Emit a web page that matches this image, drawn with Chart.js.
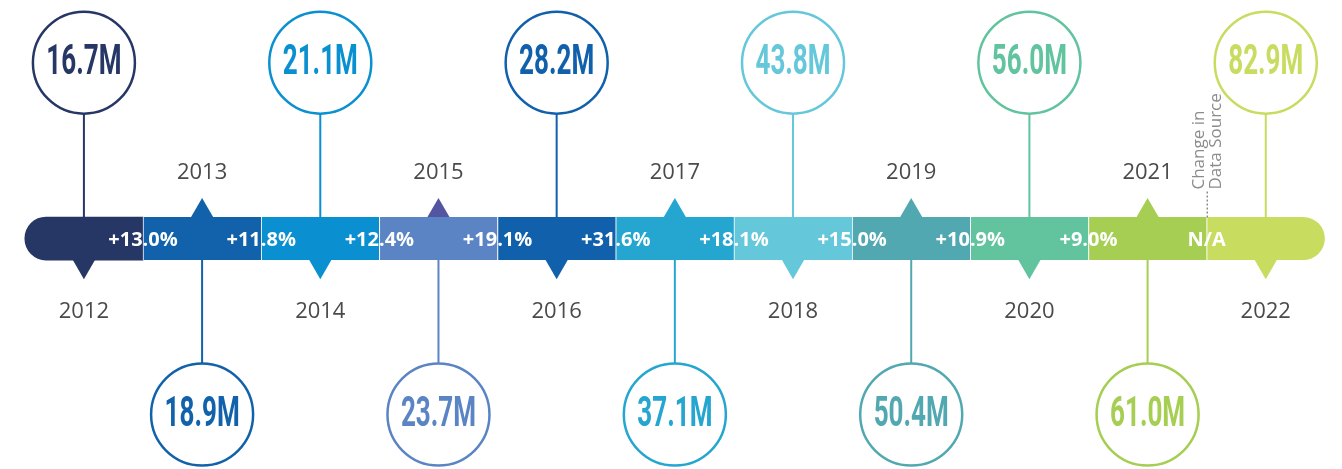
<!DOCTYPE html>
<html>
<head>
<meta charset="utf-8">
<script src="https://cdn.jsdelivr.net/npm/chart.js@4.4.1/dist/chart.umd.min.js"></script>
<style>
    html, body { margin: 0; padding: 0; background: #ffffff; }
    #wrap { width: 1342px; height: 469px; position: relative; }
</style>
</head>
<body>
<div id="wrap"><canvas id="timeline"></canvas></div>
<script>
// Timeline data
const years = [2012, 2013, 2014, 2015, 2016, 2017, 2018, 2019, 2020, 2021, 2022];
const totals = [16.7, 18.9, 21.1, 23.7, 28.2, 37.1, 43.8, 50.4, 56.0, 61.0, 82.9];
const changes = [13.0, 11.8, 12.4, 19.1, 31.6, 18.1, 15.0, 10.9, 9.0, null];
const yearColors = ['#263766', '#1162ab', '#0a90d0', '#5b84c4', '#1160ab', '#24a6d1',
    '#64c7da', '#52a8b0', '#62c39f', '#a5ce52', '#c8dc60'];
const pointerColors = ['#263766', '#1162ab', '#0a90d0', '#5355a0', '#1160ab', '#24a6d1',
    '#64c7da', '#52a8b0', '#62c39f', '#a5ce52', '#c8dc60'];
const sourceNote = ['Change in', 'Data Source'];

// layout (value units on the hidden y scale)
const CIRCLE_LEVEL = 5;
const POINTER_LEVEL = 0.71;
const isTop = i => i % 2 === 0;

const datasets = [];

// Stems from circles to the band
years.forEach((yr, i) => {
    datasets.push({
        type: 'line',
        data: [{ x: yr, y: isTop(i) ? CIRCLE_LEVEL : -CIRCLE_LEVEL }, { x: yr, y: 0 }],
        borderColor: yearColors[i],
        borderWidth: 2,
        pointRadius: 0,
        showLine: true,
        order: 5
    });
});

// Little triangles pointing at the year labels
datasets.push({
    type: 'scatter',
    data: years.map((yr, i) => ({ x: yr, y: isTop(i) ? -POINTER_LEVEL : POINTER_LEVEL })),
    pointStyle: 'triangle',
    pointRadius: 15.6,
    rotation: years.map((yr, i) => isTop(i) ? 180 : 0),
    backgroundColor: pointerColors,
    borderWidth: 0,
    order: 4
});

// The band itself: one floating segment per year
const last = years.length - 1;
datasets.push({
    type: 'bar',
    indexAxis: 'y',
    data: years.map(yr => ({ x: [yr - 0.5, yr + 0.5], y: 0 })),
    backgroundColor: yearColors,
    borderColor: '#ffffff',
    borderWidth: ctx => ctx.dataIndex === 0 ? 0 : { left: 1, right: 0, top: 0, bottom: 0 },
    borderSkipped: false,
    borderRadius: ctx => {
        if (ctx.dataIndex === 0) return { topLeft: 22, bottomLeft: 22, topRight: 0, bottomRight: 0 };
        if (ctx.dataIndex === last) return { topLeft: 0, bottomLeft: 0, topRight: 22, bottomRight: 22 };
        return 0;
    },
    barThickness: 43,
    order: 3
});

// Value circles
datasets.push({
    type: 'scatter',
    data: years.map((yr, i) => ({ x: yr, y: isTop(i) ? CIRCLE_LEVEL : -CIRCLE_LEVEL })),
    pointStyle: 'circle',
    pointRadius: 51,
    backgroundColor: '#ffffff',
    borderColor: yearColors,
    borderWidth: 2.5,
    order: 1
});

function fmtChange(v) {
    return v === null ? 'N/A' : '+' + v.toFixed(1) + '%';
}

// Texts: values in circles, years, percentage change, source note
const labelPlugin = {
    id: 'timelineLabels',
    afterDatasetsDraw(chart) {
        const { ctx, scales: { x, y } } = chart;
        const y0 = y.getPixelForValue(0);
        ctx.save();

        // circle values, condensed bold
        years.forEach((yr, i) => {
            const cx = x.getPixelForValue(yr);
            const cy = y.getPixelForValue(isTop(i) ? CIRCLE_LEVEL : -CIRCLE_LEVEL);
            ctx.save();
            ctx.translate(cx, cy + 1);
            ctx.scale(0.62, 1);
            ctx.font = 'bold 42px Roboto';
            ctx.fillStyle = yearColors[i];
            ctx.textAlign = 'center';
            ctx.textBaseline = 'middle';
            ctx.fillText(totals[i].toFixed(1) + 'M', 0, 0);
            ctx.restore();
        });

        // year labels
        ctx.font = '22px "Open Sans"';
        ctx.fillStyle = '#4a4a4a';
        ctx.textAlign = 'center';
        ctx.textBaseline = 'middle';
        years.forEach((yr, i) => {
            const cx = x.getPixelForValue(yr);
            const ty = isTop(i) ? y0 + 73 : y0 - 66;
            ctx.fillText(String(yr), cx, ty);
        });

        // percentage change on segment boundaries
        ctx.font = 'bold 20px "Open Sans"';
        ctx.fillStyle = '#ffffff';
        changes.forEach((v, i) => {
            const bx = x.getPixelForValue(years[i] + 0.5);
            ctx.fillText(fmtChange(v), bx, y0 + 2);
        });

        // change in data source marker
        const nx = x.getPixelForValue(years[last] - 0.5);
        ctx.strokeStyle = '#555555';
        ctx.lineWidth = 1;
        ctx.setLineDash([2, 2]);
        ctx.beginPath();
        ctx.moveTo(nx + 0.5, y0 - 47);
        ctx.lineTo(nx + 0.5, y0 - 21);
        ctx.stroke();
        ctx.setLineDash([]);

        ctx.save();
        ctx.translate(nx, y0 - 49);
        ctx.rotate(-Math.PI / 2);
        ctx.font = '17px "Open Sans"';
        ctx.fillStyle = '#8c8c8c';
        ctx.textAlign = 'left';
        ctx.textBaseline = 'middle';
        ctx.fillText(sourceNote[0], 0, -8);
        ctx.fillText(sourceNote[1], 0, 9);
        ctx.restore();

        ctx.restore();
    }
};

new Chart(document.getElementById('timeline'), {
    type: 'scatter',
    data: { datasets: datasets },
    options: {
        responsive: true,
        maintainAspectRatio: false,
        animation: false,
        events: [],
        layout: { padding: 0, autoPadding: false },
        plugins: {
            legend: { display: false },
            tooltip: { enabled: false }
        },
        scales: {
            x: { type: 'linear', min: 2011.29, max: 2022.645, offset: false, display: false },
            y: { type: 'linear', min: -6.55, max: 6.78, offset: false, display: false }
        }
    },
    plugins: [labelPlugin]
});
</script>
</body>
</html>
